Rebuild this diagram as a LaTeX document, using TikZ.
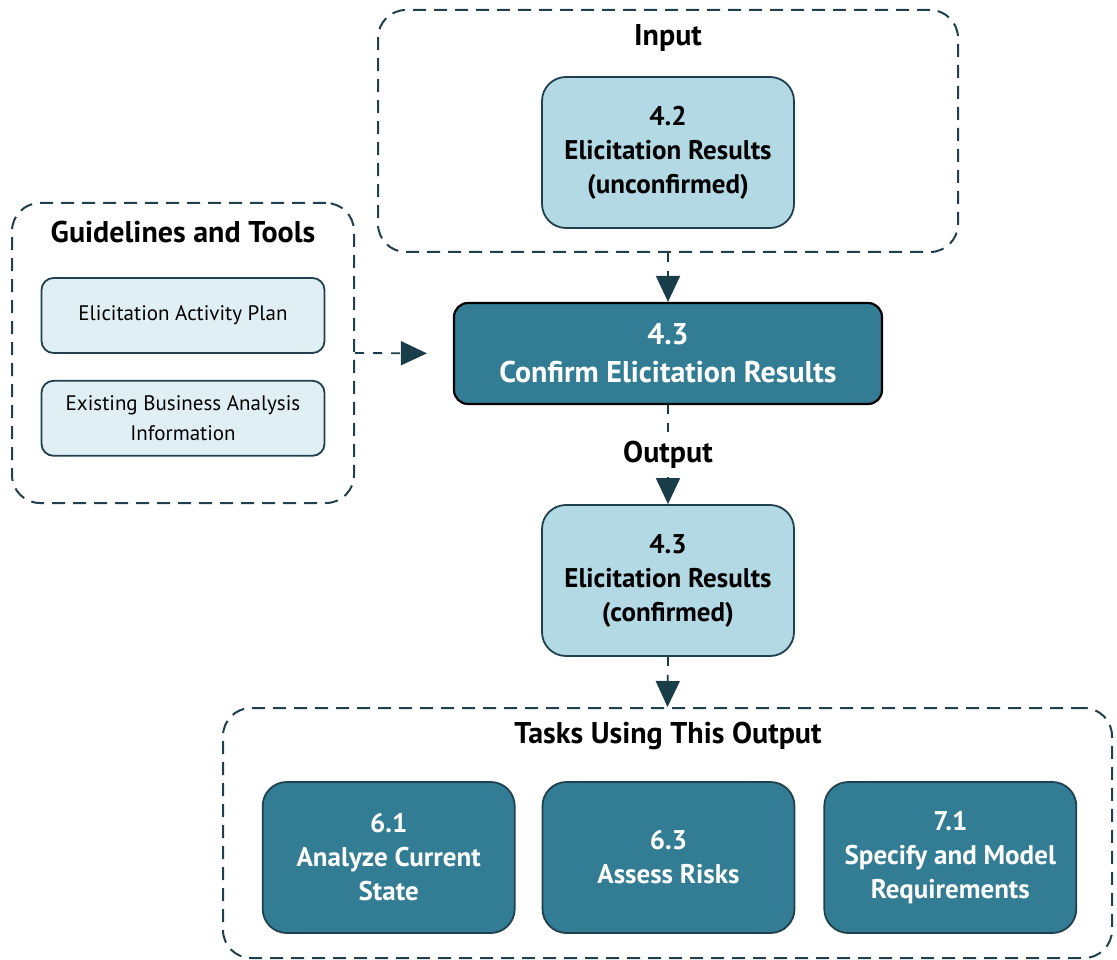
\documentclass[tikz,border=0pt]{standalone}
\usepackage{fontspec}
\setmainfont{PT Sans}
\usetikzlibrary{positioning,arrows.meta}
\definecolor{tealdark}{RGB}{51,125,148}
\definecolor{teallight}{RGB}{179,217,228}
\definecolor{tealpale}{RGB}{223,239,244}
\definecolor{edgedark}{RGB}{31,64,76}
\definecolor{arrowdark}{RGB}{26,61,74}

\begin{document}
\begin{tikzpicture}[x=1pt,y=-1pt,node distance=26pt,
	groupb/.style={
	  draw=edgedark,
	  line width=2pt,
	  dash pattern=on 13pt off 8pt,
	  rounded corners=28pt
	},
	titleb/.style={
	  font=\fontsize{30}{34}\selectfont\bfseries
	},
	inputb/.style={
	  draw=edgedark,
	  line width=1.8pt,
	  fill=teallight,
	  rounded corners=24pt,
	  minimum width=252pt,
	  minimum height=151pt,
	  align=center,
	  font=\fontsize{27}{34}\selectfont\bfseries
	},
	taskb/.style={
	  inputb,
	  fill=tealdark,
	  text=white
	},
	mainb/.style={
	  draw=black,
	  line width=2.2pt,
	  fill=tealdark,
	  text=white,
	  rounded corners=14pt,
	  minimum width=428pt,
	  minimum height=101pt,
	  align=center,
	  font=\fontsize{30}{38}\selectfont\bfseries
	},
	guideb/.style={
	  draw=edgedark,
	  line width=1.8pt,
	  fill=tealpale,
	  rounded corners=12pt,
	  minimum width=283pt,
	  minimum height=75pt,
	  align=center,
	  font=\fontsize{21}{30}\selectfont
	},
	flow/.style={
	  draw=arrowdark,
	  line width=1.8pt,
	  dash pattern=on 9pt off 9pt,
	  -{Triangle[length=26pt,width=24pt]}
	}]

	\useasboundingbox (0,0) rectangle (1117,960);

	\node[groupb,minimum width=580pt,minimum height=242pt] (InputG) at (668,131) {};
	\node[groupb,minimum width=342pt,minimum height=300pt] (GuideG) at (183,353) {};
	\node[groupb,minimum width=889pt,minimum height=250pt] (TasksG) at (667.5,833) {};

	\node[titleb] (InputT) at (668,38) {Input};
	\node[inputb] (Elic42) at (668,152.5) {4.2\\Elicitation Results\\(unconfirmed)};

	\node[mainb] (Confirm) at (668,353.5) {4.3\\Confirm Elicitation Results};

	\node[titleb] (GuideT) at (183,232) {Guidelines and Tools};
	\node[guideb] (Plan) at (183,315.5) {Elicitation Activity Plan};
	\node[guideb,below=of Plan] (Existing) {Existing Business Analysis\\Information};

	\node[inputb] (Elic43) at (668,580.5) {4.3\\Elicitation Results\\(confirmed)};

	\node[titleb] (TasksT) at (668,736) {Tasks Using This Output};
	\node[taskb] (Assess) at (668.5,857.5) {6.3\\Assess Risks};
	\node[taskb,left=of Assess] (Analyze) {6.1\\Analyze Current\\State};
	\node[taskb,right=28pt of Assess] (Specify) {7.1\\Specify and Model\\Requirements};

	\draw[flow] (InputG.south) -- (Confirm.north);
	\draw[flow,shorten >=26pt] (GuideG.east) -- (Confirm.west);
	\draw[flow] (Confirm.south) -- node[titleb,fill=white,inner sep=3pt] (OutputT) {Output} (Elic43.north);
	\draw[flow] (Elic43.south) -- (TasksG.north);
\end{tikzpicture}
\end{document}
